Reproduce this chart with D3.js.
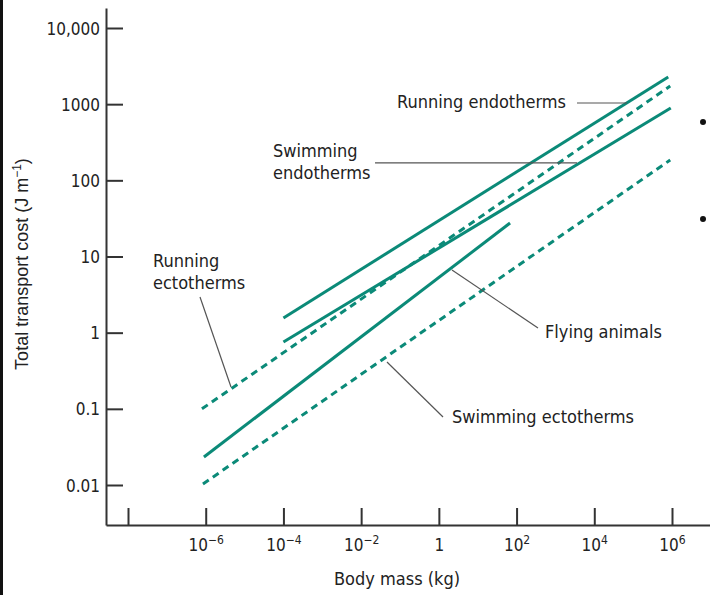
<!DOCTYPE html>
<html>
<head>
<meta charset="utf-8">
<script src="https://cdn.jsdelivr.net/npm/d3@7"></script>
<style>
  body { margin: 0; background: #fff; }
  svg text { font-family: "Liberation Sans Narrow", "DejaVu Sans Condensed", "Liberation Sans", sans-serif; fill: #222; }
</style>
</head>
<body>
<div id="chart"></div>
<script>
// series: body mass (kg) and total transport cost (J/m) at each end of the fitted lines
const seriesNames = ['Running endotherms', 'Swimming endotherms', 'Running ectotherms', 'Flying animals', 'Swimming ectotherms'];
const seriesDashed = [false, false, true, false, true];
const massStart = [1.0e-4, 1.0e-4, 8.0e-7, 9.0e-7, 8.5e-7];
const massEnd = [8.0e5, 9.3e5, 9.0e5, 68, 9.0e5];
const costStart = [1.56, 0.755, 0.1, 0.0233, 0.0103];
const costEnd = [2275, 890, 1730, 27.5, 185];

// tick labels
const xTickValues = [1e-8, 1e-6, 1e-4, 1e-2, 1, 1e2, 1e4, 1e6];
const xTickBase = ['', '10', '10', '10', '1', '10', '10', '10'];
const xTickExp = ['', '\u22126', '\u22124', '\u22122', '', '2', '4', '6'];
const yTickValues = [0.01, 0.1, 1, 10, 100, 1000, 10000];
const yTickLabels = ['0.01', '0.1', '1', '10', '100', '1000', '10,000'];

// annotation text (log10 mass, log10 cost) and leader lines
const labelLines = [['Running endotherms'], ['Swimming', 'endotherms'], ['Running', 'ectotherms'], ['Flying animals'], ['Swimming ectotherms']];
const labelX = [-1.077, -4.268, -7.357, 2.732, 0.338];
const labelY = [2.950, 2.306, 0.862, -0.070, -1.186];
const leaderX1 = [3.555, -1.643, -6.147, 0.338, -1.335];
const leaderY1 = [3.015, 2.228, 0.468, 0.823, -0.385];
const leaderX2 = [4.842, 3.555, -5.349, 2.551, 0.107];
const leaderY2 = [3.015, 2.228, -0.713, 0.061, -1.107];

// stray bullets from the page the figure was cut from
const bulletX = [6.798, 6.798];
const bulletY = [2.766, 1.492];

const width = 710, height = 595;
const teal = '#0b8a78';

const svg = d3.select('#chart').append('svg')
    .attr('width', width)
    .attr('height', height);

// scales: ticks are placed exactly, then the domain is stretched to the axis ends
const xScale = d3.scaleLog().domain([1e-8, 1e6]).range([128, 672]);
xScale.domain([xScale.invert(106), xScale.invert(710)]).range([106, 710]);

const yScale = d3.scaleLog().domain([0.01, 10000]).range([485, 28]);
yScale.domain([yScale.invert(525), yScale.invert(8)]).range([525, 8]);

const lx = v => xScale(Math.pow(10, v));
const ly = v => yScale(Math.pow(10, v));

// left page border
svg.append('rect')
    .attr('x', 0).attr('y', 0)
    .attr('width', 3).attr('height', height)
    .attr('fill', '#111');

// axes
const xAxis = svg.append('g')
    .attr('transform', 'translate(0, 525)')
    .call(d3.axisBottom(xScale)
        .tickValues(xTickValues)
        .tickSizeInner(-17)
        .tickSizeOuter(0)
        .tickPadding(14)
        .tickFormat(''));

const yAxis = svg.append('g')
    .attr('transform', 'translate(106, 0)')
    .call(d3.axisLeft(yScale)
        .tickValues(yTickValues)
        .tickSizeInner(-17)
        .tickSizeOuter(0)
        .tickPadding(6)
        .tickFormat((d, i) => yTickLabels[i]));

svg.selectAll('.domain, .tick line')
    .attr('stroke', '#333')
    .attr('stroke-width', 2);

yAxis.selectAll('.tick text')
    .attr('font-size', 17)
    .attr('fill', '#222')
    .attr('dy', '0.36em');

// x tick labels with superscripts
xAxis.selectAll('.tick text').each(function(d, i) {
    const t = d3.select(this)
        .attr('font-size', 17)
        .attr('fill', '#222')
        .attr('dy', '0.71em');
    t.append('tspan').text(xTickBase[i]);
    if (xTickExp[i]) {
        t.append('tspan')
            .attr('font-size', 12)
            .attr('dy', '-0.55em')
            .text(xTickExp[i]);
    }
});

// axis titles
svg.append('text')
    .attr('x', 397).attr('y', 585)
    .attr('text-anchor', 'middle')
    .attr('font-size', 18)
    .text('Body mass (kg)');

const yTitle = svg.append('text')
    .attr('transform', 'translate(28, 264) rotate(-90)')
    .attr('text-anchor', 'middle')
    .style('font-family', '"Liberation Sans", Arial, sans-serif')
    .attr('font-size', 18);
yTitle.append('tspan').text('Total transport cost (J m');
yTitle.append('tspan').attr('font-size', 12).attr('dy', '-0.6em').text('\u22121');
yTitle.append('tspan').attr('dy', '0.4em').text(')');

// series lines
const lines = seriesNames.map((name, i) => ({
    name: name,
    dashed: seriesDashed[i],
    points: [[massStart[i], costStart[i]], [massEnd[i], costEnd[i]]]
}));

const lineGen = d3.line()
    .x(d => xScale(d[0]))
    .y(d => yScale(d[1]));

svg.selectAll('.series')
    .data(lines)
    .enter().append('path')
    .attr('class', 'series')
    .attr('fill', 'none')
    .attr('stroke', teal)
    .attr('stroke-width', 3)
    .attr('stroke-dasharray', d => d.dashed ? '7 5' : null)
    .attr('d', d => lineGen(d.points));

// leader lines
svg.selectAll('.leader')
    .data(seriesNames)
    .enter().append('line')
    .attr('class', 'leader')
    .attr('x1', (d, i) => lx(leaderX1[i]))
    .attr('y1', (d, i) => ly(leaderY1[i]))
    .attr('x2', (d, i) => lx(leaderX2[i]))
    .attr('y2', (d, i) => ly(leaderY2[i]))
    .attr('stroke', '#555')
    .attr('stroke-width', 1.2);

// annotation labels
svg.selectAll('.label')
    .data(labelLines)
    .enter().append('text')
    .attr('class', 'label')
    .attr('font-size', 18)
    .attr('x', (d, i) => lx(labelX[i]))
    .attr('y', (d, i) => ly(labelY[i]))
    .each(function(d, i) {
        d3.select(this).selectAll('tspan')
            .data(d)
            .enter().append('tspan')
            .attr('x', lx(labelX[i]))
            .attr('dy', (s, j) => j === 0 ? 0 : 22)
            .text(s => s);
    });

svg.selectAll('.bullet')
    .data(bulletX)
    .enter().append('circle')
    .attr('cx', d => lx(d))
    .attr('cy', (d, i) => ly(bulletY[i]))
    .attr('r', 3)
    .attr('fill', '#111');
</script>
</body>
</html>
